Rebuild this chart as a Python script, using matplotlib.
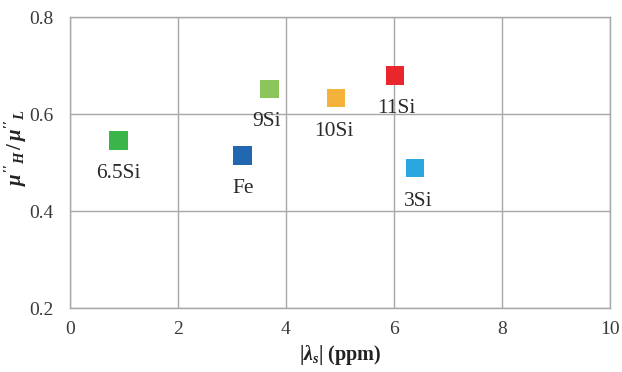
import matplotlib.pyplot as plt

# ── Data ─────────────────────────────────────────────────
labels = ["6.5Si", "Fe", "9Si", "10Si", "11Si", "3Si"]
lam_s = [0.9, 3.2, 3.7, 4.93, 6.02, 6.39]
ratio = [0.546, 0.515, 0.652, 0.633, 0.68, 0.489]
colors = ["#3AB54A", "#2166B0", "#8CC65A", "#F4B23A", "#E8262B", "#2AA7E0"]
# label offsets (points) below each marker
offsets = [(0, -17), (0, -17), (-2, -17), (-2, -17), (1, -17), (2, -17)]

xticks = [0, 2, 4, 6, 8, 10]
yticks = [0.2, 0.4, 0.6, 0.8]

plt.rcParams["font.family"] = ["Liberation Serif", "DejaVu Serif"]
plt.rcParams["mathtext.fontset"] = "custom"
plt.rcParams["mathtext.rm"] = "Liberation Serif:bold"
plt.rcParams["mathtext.it"] = "Liberation Serif:italic:bold"
plt.rcParams["mathtext.bf"] = "Liberation Serif:bold"

fig = plt.figure(figsize=(6.22, 3.72), dpi=100)
ax = fig.add_axes([0.1125, 0.172, 0.868, 0.782])

ax.scatter(lam_s, ratio, marker="s", s=180, c=colors, linewidths=0, zorder=3)

for x, y, lab, (dx, dy) in zip(lam_s, ratio, labels, offsets):
    ax.annotate(lab, (x, y), xytext=(dx, dy), textcoords="offset points",
                ha="center", va="top", fontsize=15.5, color="#2a2a2a")

ax.set_xlim(0, 10)
ax.set_ylim(0.2, 0.8)
ax.set_xticks(xticks)
ax.set_yticks(yticks)
ax.set_yticklabels([f"{t:.1f}" for t in yticks])

ax.grid(True, color="#A8A8A8", linewidth=1.0)
ax.set_axisbelow(True)
for s in ax.spines.values():
    s.set_color("#A8A8A8")
    s.set_linewidth(1.0)

ax.tick_params(length=0, labelsize=14, colors="#3a3a3a")
ax.tick_params(axis="y", pad=12)
ax.tick_params(axis="x", pad=9)

ax.set_xlabel(r"$|\lambda_s|$ (ppm)", fontsize=14.5, fontweight="bold",
              color="#222222", labelpad=4)
ax.set_ylabel(r"$\mu''_H\,/\,\mu''_L$",
              fontsize=15, fontweight="bold", color="#222222")
ax.yaxis.set_label_coords(-0.076, 0.55)

fig.savefig("out.png", dpi=100)
